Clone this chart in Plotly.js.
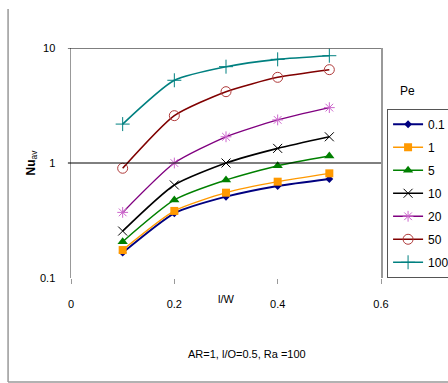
<!DOCTYPE html>
<html><head><meta charset="utf-8">
<script src="https://cdn.plot.ly/plotly-3.0.1.min.js"></script>
<style>html,body{margin:0;padding:0;background:#fff}#chart{width:448px;height:383px}</style>
</head><body><div id="chart"></div>
<script>
const lw = [0.1, 0.2, 0.3, 0.4, 0.5];
const peLabels = ["0.1", "1", "5", "10", "20", "50", "100"];
const nu_pe01 = [0.166, 0.365, 0.509, 0.631, 0.726];
const nu_pe1 = [0.175, 0.383, 0.552, 0.688, 0.813];
const nu_pe5 = [0.207, 0.477, 0.711, 0.947, 1.15];
const nu_pe10 = [0.256, 0.644, 1.0, 1.34, 1.69];
const nu_pe20 = [0.372, 1.0, 1.69, 2.37, 3.03];
const nu_pe50 = [0.90, 2.58, 4.17, 5.56, 6.48];
const nu_pe100 = [2.18, 5.24, 6.88, 7.97, 8.57];
const seriesValues = [nu_pe01, nu_pe1, nu_pe5, nu_pe10, nu_pe20, nu_pe50, nu_pe100];

const styles = [
  {line: '#000080', w: 1.8, mk: {symbol: 'diamond', size: 6, color: '#000080'}},
  {line: '#FF9900', w: 1.4, mk: {symbol: 'square', size: 8, color: '#FF9900'}},
  {line: '#008000', w: 1.4, mk: {symbol: 'triangle-up', size: 9, color: '#008000'}},
  {line: '#000000', w: 1.6, mk: {symbol: 'x-thin-open', size: 9, color: '#000000', line: {width: 1, color: '#000000'}}},
  {line: '#800080', w: 1.4, mk: {symbol: 'asterisk-open', size: 9, color: '#CC66CC', line: {width: 1, color: '#CC66CC'}}},
  {line: '#800000', w: 1.6, mk: {symbol: 'circle-open', size: 10, color: '#B03A3A', line: {width: 1, color: '#B03A3A'}}},
  {line: '#008080', w: 1.6, mk: {symbol: 'cross-thin-open', size: 10, color: '#008080', line: {width: 1, color: '#008080'}}}
];

const font = {family: 'Liberation Sans, Arial, sans-serif', size: 11, color: '#000'};
const data = seriesValues.map((v, i) => ({
  x: lw, y: v, name: peLabels[i], type: 'scatter', mode: 'lines+markers',
  legendgroup: 'g' + i,
  line: {color: styles[i].line, width: styles[i].w, shape: 'spline', smoothing: 0.6},
  marker: styles[i].mk
}));

const layout = {
  width: 448, height: 383,
  margin: {l: 71, r: 67, t: 48, b: 105},
  paper_bgcolor: '#fff', plot_bgcolor: '#fff',
  font: font,
  showlegend: true,
  legend: {xref: 'container', yref: 'container', x: 0.864, y: 0.716, xanchor: 'left', yanchor: 'top',
           bordercolor: '#555', borderwidth: 1, itemsizing: 'trace',
           font: {family: font.family, size: 12, color: '#000'}, tracegroupgap: 4, itemwidth: 30, traceorder: 'grouped'},
  xaxis: {range: [0, 0.6], tickvals: [0, 0.2, 0.4, 0.6], ticktext: ['0', '0.2', '0.4', '0.6'],
          showgrid: false, zeroline: false, showline: false, ticks: 'outside', ticklen: 5, tickcolor: '#999',
          ticklabelstandoff: 11, tickfont: font},
  yaxis: {type: 'log', range: [-1, 1], tickvals: [0.1, 1, 10], ticktext: ['0.1', '1', '10'],
          showgrid: false, zeroline: false, showline: true, linecolor: '#999', linewidth: 1.5, mirror: true,
          ticks: '', ticklabelstandoff: 12, tickfont: font,
          title: {text: '<b>Nu</b><sub>av</sub>', font: {family: font.family, size: 12, color: '#000'}, standoff: 2}},
  shapes: [
    {type: 'line', xref: 'paper', yref: 'y', x0: -0.01, x1: 1, y0: 10, y1: 10, line: {color: '#000', width: 1}},
    {type: 'line', xref: 'paper', yref: 'y', x0: -0.01, x1: 1.0, y0: 1, y1: 1, line: {color: '#000', width: 1}},
    {type: 'line', xref: 'paper', yref: 'paper', x0: -0.203, x1: -0.203, y0: 1.17, y1: -0.452, line: {color: '#999', width: 1.5}},
    {type: 'line', xref: 'paper', yref: 'paper', x0: -0.203, x1: 1.25, y0: -0.452, y1: -0.452, line: {color: '#999', width: 1.5}}
  ],
  annotations: [
    {text: 'l/W', xref: 'x', yref: 'paper', x: 0.3, y: -0.091, xanchor: 'center', yanchor: 'middle', showarrow: false, font: font},
    {text: 'AR=1, l/O=0.5, Ra =100', xref: 'paper', yref: 'paper', x: 0.568, y: -0.33, xanchor: 'center', yanchor: 'middle', showarrow: false, font: font},
    {text: 'Pe', xref: 'paper', yref: 'paper', x: 1.084, y: 0.813, xanchor: 'center', yanchor: 'middle', showarrow: false, font: {family: font.family, size: 12, color: '#000'}}
  ]
};
Plotly.newPlot('chart', data, layout, {displayModeBar: false, staticPlot: true});
</script></body></html>
